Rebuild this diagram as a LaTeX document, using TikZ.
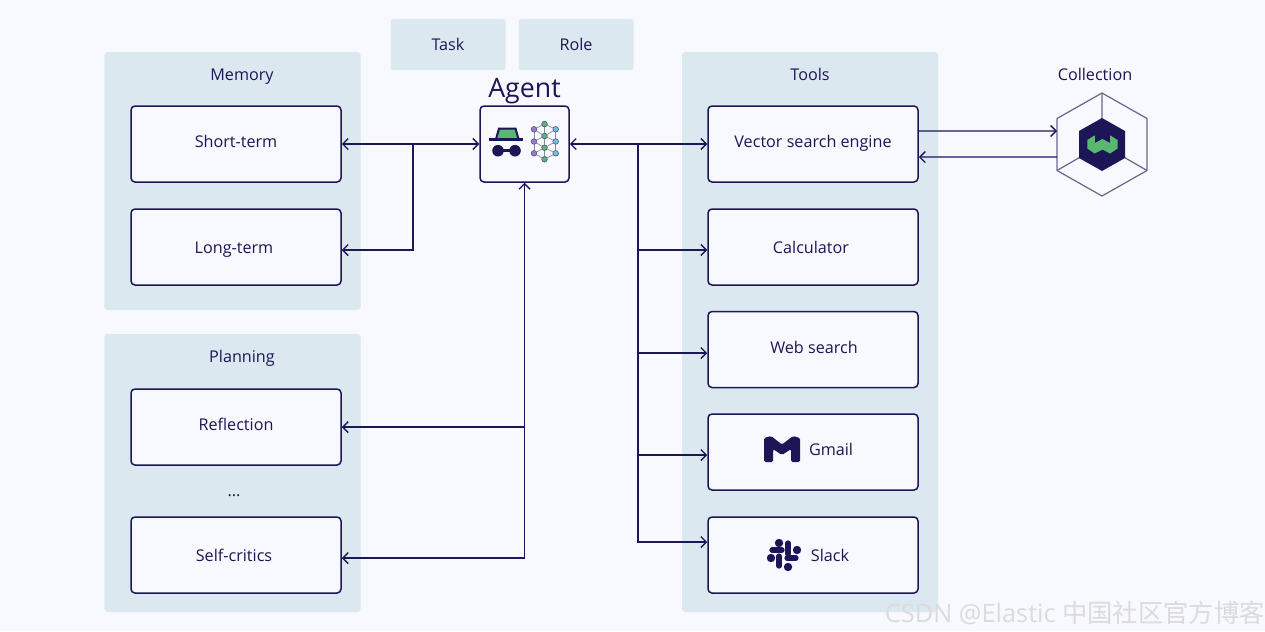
\documentclass[tikz,border=0pt]{standalone}
\usepackage{fontspec}
\setmainfont{Open Sans}
\newfontfamily\cjkfont{Noto Sans CJK SC}
\usetikzlibrary{arrows.meta}
\definecolor{ElasticInk}{RGB}{28,22,86}
\definecolor{ElasticPane}{RGB}{220,232,240}
\definecolor{ElasticPage}{RGB}{248,249,254}
\definecolor{ElasticGreen}{RGB}{88,184,112}
\definecolor{ElasticPurple}{RGB}{150,125,200}
\definecolor{ElasticBlue}{RGB}{110,195,225}
\tikzset{
  panebox/.style={fill=ElasticPane,rounded corners=0.6mm,inner sep=0pt},
  chipbox/.style={panebox,minimum width=23mm,minimum height=10.2mm,text=ElasticInk,font=\fontsize{9.2}{11}\selectfont,text height=7pt,text depth=0pt},
  itembox/.style={draw=ElasticInk,fill=ElasticPage,line width=0.3mm,rounded corners=0.8mm,inner sep=0pt,minimum width=42mm,minimum height=15.2mm},
  itemtext/.style={text=ElasticInk,font=\fontsize{9.2}{11}\selectfont,inner sep=0pt,text height=7pt,text depth=0pt},
  link/.style={draw=ElasticInk,line width=0.28mm},
  tipped/.style={link,arrows={-Straight Barb[length=1.1mm,width=2.2mm]}},
  twotipped/.style={link,arrows={Straight Barb[length=1.1mm,width=2.2mm]-Straight Barb[length=1.1mm,width=2.2mm]}},
}
\begin{document}
\begin{tikzpicture}[x=0.2mm, y=-0.2mm]
\fill[ElasticPage] (0,0) rectangle (1265,631); %page
\useasboundingbox (0,0) rectangle (1265,631);

% panes
\node[panebox,minimum width=51.2mm,minimum height=51.6mm] (memorypane) at (232.5,181) {};
\node[panebox,minimum width=51.2mm,minimum height=55.6mm] (planningpane) at (232.5,473) {};
\node[panebox,minimum width=51.2mm,minimum height=112mm] (toolspane) at (810,332) {};
\node[chipbox] (task) at (448,44.5) {Task};
\node[chipbox] (role) at (576,44.5) {Role};

% boxes
\node[itembox] (short) at (236,144) {};
\node[itembox] (long) at (236,247) {};
\node[itembox] (reflection) at (236,427) {};
\node[itembox] (critics) at (236,555) {};
\node[itembox] (vector) at (813,144) {};
\node[itembox] (calc) at (813,247) {};
\node[itembox] (web) at (813,349.5) {};
\node[itembox] (gmail) at (813,452) {};
\node[itembox] (slack) at (813,555) {};
\node[itembox,minimum width=17.8mm] (agent) at (524.5,144) {};

% labels
\node[itemtext] (memorytxt) at (242,74) {Memory};
\node[itemtext] (planningtxt) at (242,356.5) {Planning};
\node[itemtext] (toolstxt) at (810,74) {Tools};
\node[itemtext] (collectiontxt) at (1095,74) {Collection};
\node[itemtext,font=\fontsize{15.2}{18}\selectfont,text height=11.5pt] (agenttxt) at (524.5,87) {Agent};
\node[itemtext] (shorttxt) at (236,141.5) {Short-term};
\node[itemtext] (longtxt) at (234,247.5) {Long-term};
\node[itemtext] (reflectiontxt) at (236,424) {Reflection};
\node[itemtext] (dotstxt) at (234,490) {...};
\node[itemtext] (criticstxt) at (234,555.5) {Self-critics};
\node[itemtext] (vectortxt) at (813,141.5) {Vector search engine};
\node[itemtext] (calctxt) at (811,247.5) {Calculator};
\node[itemtext] (webtxt) at (814,347) {Web search};
\node[itemtext] (gmailtxt) at (831,449.5) {Gmail};
\node[itemtext] (slacktxt) at (830,555.5) {Slack};
\node[text=black!14,font=\fontsize{14.4}{16}\selectfont,anchor=east,inner sep=0pt] (mark) at (1265,613) {CSDN @Elastic {\cjkfont 中国社区官方博客}};

% collection hexagon
\coordinate (hexmid) at (1102,144.5);
\node[inner sep=0pt,minimum size=0pt] (hexleft) at (1057,144.5) {};
\draw[draw=ElasticInk!65,line width=0.25mm,line join=round] (1102,93) -- (1147,118.5) -- (1147,170.5) -- (1102,196) -- (1057,170.5) -- (1057,118.5) -- cycle; %outer
\draw[draw=ElasticInk!65,line width=0.25mm] (hexmid) -- (1102,93) (hexmid) -- (1057,170.5) (hexmid) -- (1147,170.5); %spokes
\fill[ElasticInk] (1102,118) -- (1125,131) -- (1125,158) -- (1102,171) -- (1079,158) -- (1079,131) -- cycle; %dark core
\fill[ElasticGreen] (1094.7,135.3) -- (1087.3,140) -- (1087.3,148.5) -- (1094.7,153.5) -- (1102.5,149.5) -- (1110,153.5) -- (1117.5,148.5) -- (1117.5,140) -- (1110,135.3) -- (1110,143) -- (1102.5,139) -- (1095,143) -- cycle; %W

% connectors
\coordinate (memjoin) at (413,144);
\coordinate (toolsjoin) at (638,144);
\coordinate (planjoin) at (524.5,427);
\coordinate (planelbow) at (524.5,558);
\draw[twotipped] (short.east) -- (agent.west);
\draw[tipped] (memjoin) |- ([yshift=-0.6mm]long.east);
\draw[twotipped] (agent.east) -- (vector.west);
\draw[tipped] (toolsjoin) |- ([yshift=-0.6mm]calc.west);
\draw[tipped] (toolsjoin) |- ([yshift=-0.7mm]web.west);
\draw[tipped] (toolsjoin) |- ([yshift=-0.6mm]gmail.west);
\draw[tipped] (toolsjoin) |- ([yshift=2.6mm]slack.west);
\draw[tipped] (planjoin) -- (reflection.east);
\draw[tipped] (planelbow) -- (planelbow -| critics.east);
\draw[tipped] (planelbow) -- (agent.south);
\draw[tipped] ([yshift=2.6mm]vector.east) -- ([yshift=2.7mm]hexleft.center);
\draw[tipped] ([yshift=-2.5mm]hexleft.center) -- ([yshift=-2.6mm]vector.east);

% hat
\fill[draw=ElasticInk,fill=ElasticGreen,line width=0.4mm] (496,139) -- (499,128.5) -- (515.5,128.5) -- (518.5,139) -- cycle;
\draw[ElasticInk,line width=0.5mm] (489,139.5) -- (523,139.5);
\fill[ElasticInk] (498,150.7) circle (5.8) (515,150.7) circle (5.8);
\draw[ElasticInk,line width=0.5mm] (498,150.7) -- (515,150.7);

% neural net
\foreach \yl in {129.3,141.5,153.3}
  \foreach \ym in {124,136,147.7,159.3} {
    \pgfmathparse{abs(\yl-\ym)<14 ? 1 : 0}
    \ifnum\pgfmathresult=1
      \draw[ElasticInk!50,line width=0.14mm] (534,\yl) -- (544.5,\ym) -- (555.7,\yl);
    \fi
  }
\draw[ElasticInk!50,line width=0.14mm] (534,129.3) -- (534,153.3) (544.5,124) -- (544.5,159.3) (555.7,129.3) -- (555.7,153.3);
\foreach \yl in {129.3,141.5,153.3} {
  \fill[ElasticPurple,draw=ElasticInk!75,line width=0.12mm] (534,\yl) circle (2.8);
  \fill[ElasticBlue,draw=ElasticInk!75,line width=0.12mm] (555.7,\yl) circle (2.8);
}
\foreach \ym in {124,136,147.7,159.3}
  \fill[ElasticGreen,draw=ElasticInk!75,line width=0.12mm] (544.5,\ym) circle (2.8);

% gmail
\fill[ElasticInk,rounded corners=0.3mm] (764,438) -- (771,436) -- (782,444.5) -- (793,436) -- (800,438) -- (800,462) -- (791,462) -- (791,449) -- (782,455) -- (773,449) -- (773,462) -- (764,462) -- cycle;

% slack
\begin{scope}[ElasticInk,line width=1.05mm,line cap=round]
\draw (788,543) -- (788,554);
\draw (772,550) -- (782,550);
\draw (787,558) -- (796,558);
\draw (779,556) -- (779,566);
\end{scope}
\fill[ElasticInk] (779,543) circle (4.2) (797,550) circle (4.2) (771,558) circle (4.2) (788,567) circle (4.2);
\end{tikzpicture}
\end{document}
